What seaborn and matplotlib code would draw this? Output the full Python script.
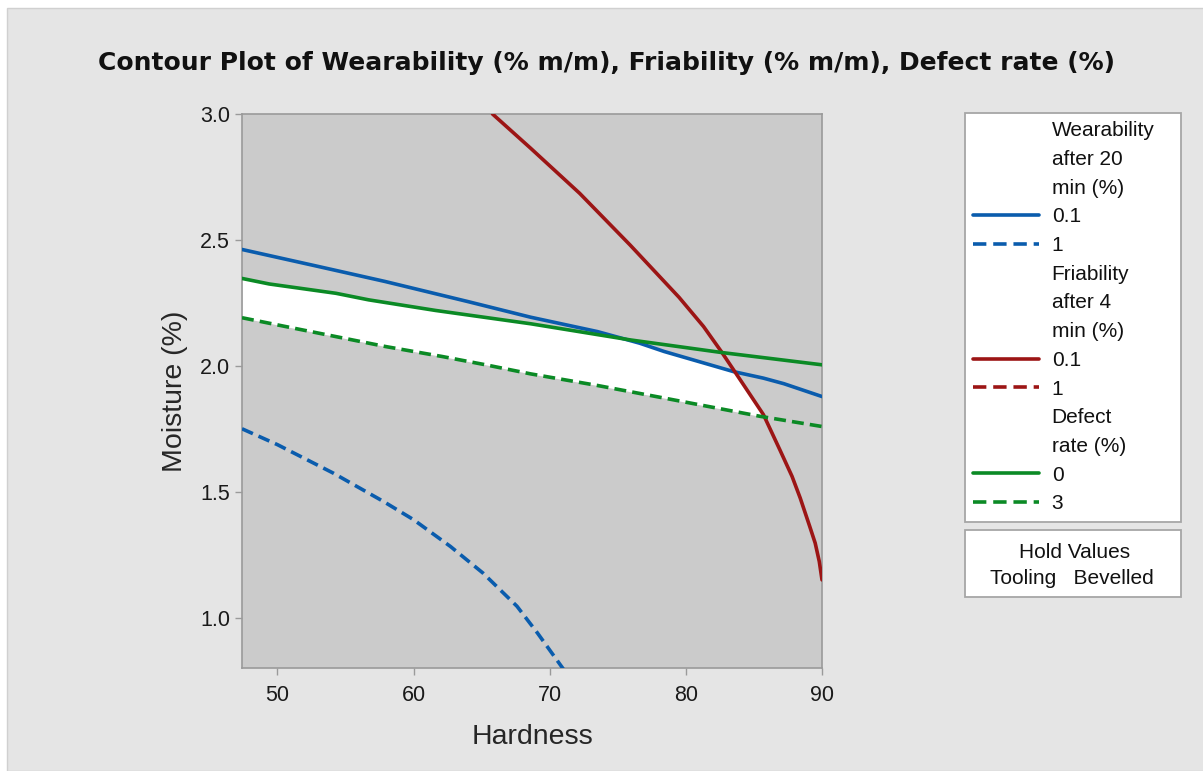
import numpy as np
import matplotlib
matplotlib.use("Agg")
import matplotlib.pyplot as plt
from matplotlib.lines import Line2D
from matplotlib.patches import Rectangle, Polygon
import seaborn as sns

# -----------------------------------------------------------------------------
# Contour lines: Hardness (x) vs Moisture % (y)
# -----------------------------------------------------------------------------
wear01_h = [47.4, 52.8, 57.9, 64.0, 68.6, 73.5, 76.6, 78.4, 83.5, 85.7, 87.2, 90.0]
wear01_m = [2.462, 2.397, 2.335, 2.255, 2.193, 2.136, 2.090, 2.057, 1.977, 1.951, 1.929, 1.878]

wear1_h = [47.4, 50.0, 54.1, 57.8, 60.0, 62.7, 65.1, 67.6, 69.1, 71.0]
wear1_m = [1.750, 1.687, 1.574, 1.461, 1.389, 1.283, 1.177, 1.045, 0.939, 0.796]

fria01_h = [65.8, 68.6, 72.2, 75.9, 79.5, 81.3, 82.6, 84.0, 85.7, 86.9, 87.8, 88.4, 89.1, 89.5, 89.8, 90.0]
fria01_m = [3.000, 2.864, 2.685, 2.480, 2.272, 2.156, 2.057, 1.944, 1.806, 1.667, 1.561, 1.475, 1.362, 1.296, 1.223, 1.150]

defect0_h = [47.4, 49.4, 54.3, 56.7, 61.6, 68.6, 75.9, 82.6, 90.0]
defect0_m = [2.347, 2.325, 2.288, 2.262, 2.220, 2.167, 2.103, 2.053, 2.004]

defect3_h = [47.4, 50.6, 54.3, 57.9, 62.1, 65.3, 68.6, 73.5, 78.4, 85.5, 90.0]
defect3_m = [2.191, 2.156, 2.116, 2.077, 2.037, 2.004, 1.968, 1.922, 1.872, 1.799, 1.759]

x_ticks = [50, 60, 70, 80, 90]
y_ticks = [1.0, 1.5, 2.0, 2.5, 3.0]

TITLE = "Contour Plot of Wearability (% m/m), Friability (% m/m), Defect rate (%)"

BLUE = "#0a5cad"
RED = "#9c1515"
GREEN = "#0b8a25"
SOLID = "-"
DASH = (0, (3.3, 1.7))
LEG_DASH = (0, (3.7, 1.9))
LW = 2.6

W, H = 1203, 771

sns.set_theme(style="white")
plt.rcParams["font.family"] = ["Liberation Sans", "DejaVu Sans"]
plt.rcParams["text.color"] = "#111111"

fig = plt.figure(figsize=(W / 100, H / 100), dpi=100, facecolor="white")
# grey panel behind everything (thin white strip on top/left like the original)
fig.patches.append(Rectangle((7 / W, 0), 1, 1 - 8 / H, transform=fig.transFigure,
                             facecolor="#e5e5e5", edgecolor="#d0d0d0", lw=1, zorder=-10))

ax = fig.add_axes([242 / W, 103 / H, 580 / W, 554 / H])
ax.set_facecolor("#cbcbcb")

# --- feasible (white) region: between defect 3 and the lower of wear 0.1 / defect 0,
#     to the left of the friability 0.1 line
grid = np.linspace(47.4, 90, 600)
top = np.minimum(np.interp(grid, wear01_h, wear01_m), np.interp(grid, defect0_h, defect0_m))
bot = np.interp(grid, defect3_h, defect3_m)
band = ax.fill_between(grid, bot, top, color="white", lw=0, zorder=1)
clip = Polygon(list(zip(fria01_h, fria01_m)) + [(90, 0), (40, 0), (40, 3.5), (fria01_h[0], 3.5)],
               closed=True, transform=ax.transData)
band.set_clip_path(clip)

# --- contour lines
series = [
    (wear01_h, wear01_m, BLUE, SOLID),
    (wear1_h, wear1_m, BLUE, DASH),
    (fria01_h, fria01_m, RED, SOLID),
    (defect0_h, defect0_m, GREEN, SOLID),
    (defect3_h, defect3_m, GREEN, DASH),
]
for hx, my, col, ls in series:
    sns.lineplot(x=hx, y=my, color=col, linewidth=LW, linestyle=ls, sort=False,
                 estimator=None, legend=False, ax=ax, zorder=3)

ax.set_xlim(47.4, 90)
ax.set_ylim(0.8, 3.0)
ax.set_xticks(x_ticks)
ax.set_yticks(y_ticks)
ax.set_yticklabels([f"{v:.1f}" for v in y_ticks])
ax.tick_params(direction="out", length=5, width=1.0, color="#9a9a9a",
               labelsize=15.5, labelcolor="#1a1a1a", bottom=True, left=True)
ax.tick_params(axis="x", pad=7)
ax.tick_params(axis="y", pad=3.6)
for s in ax.spines.values():
    s.set_visible(True)
    s.set_color("#9a9a9a")
    s.set_linewidth(1.2)

ax.set_xlabel("Hardness", fontsize=20.5, va="center")
ax.set_ylabel("Moisture (%)", fontsize=20.5, va="center")
ax.xaxis.set_label_coords(0.5, -(737 - 668) / 554)
ax.yaxis.set_label_coords((175 - 242) / 580, 0.5)

fig.text(607 / W, 1 - 63 / H, TITLE, ha="center", va="center",
         fontsize=18, fontweight="bold", family=["DejaVu Sans"])

# --- legend (one row per text line, like the original)
legend_rows = [
    ("Wearability", None, None), ("after 20", None, None), ("min (%)", None, None),
    ("0.1", BLUE, SOLID), ("1", BLUE, LEG_DASH),
    ("Friability", None, None), ("after 4", None, None), ("min (%)", None, None),
    ("0.1", RED, SOLID), ("1", RED, LEG_DASH),
    ("Defect", None, None), ("rate (%)", None, None),
    ("0", GREEN, SOLID), ("3", GREEN, LEG_DASH),
]
handles, labels = [], []
for lab, col, ls in legend_rows:
    if col is None:
        handles.append(Line2D([], [], color="none"))
    else:
        handles.append(Line2D([], [], color=col, lw=LW, linestyle=ls))
    labels.append(lab)

top_y = 1 - 113 / H
leg = ax.legend(handles, labels, loc="upper left",
                bbox_to_anchor=(965 / W, top_y - 0.1, 216 / W, 0.1),
                bbox_transform=fig.transFigure, mode="expand", borderaxespad=0,
                frameon=True, fancybox=False, edgecolor="#a6a6a6", facecolor="white",
                framealpha=1, fontsize=15, handlelength=3.15, handletextpad=0.61,
                labelspacing=0.465, borderpad=0.4)
leg.get_frame().set_linewidth(1.3)

# --- hold values box
fig.patches.append(Rectangle((965 / W, 1 - 597 / H), 216 / W, 67 / H, transform=fig.transFigure,
                             facecolor="white", edgecolor="#a6a6a6", lw=1.3, zorder=1))
fig.text(1075 / W, 1 - 552 / H, "Hold Values", ha="center", va="center", fontsize=15)
fig.text(1072 / W, 1 - 578 / H, "Tooling   Bevelled", ha="center", va="center", fontsize=15)

fig.savefig("out.png", dpi=100, facecolor=fig.get_facecolor())
